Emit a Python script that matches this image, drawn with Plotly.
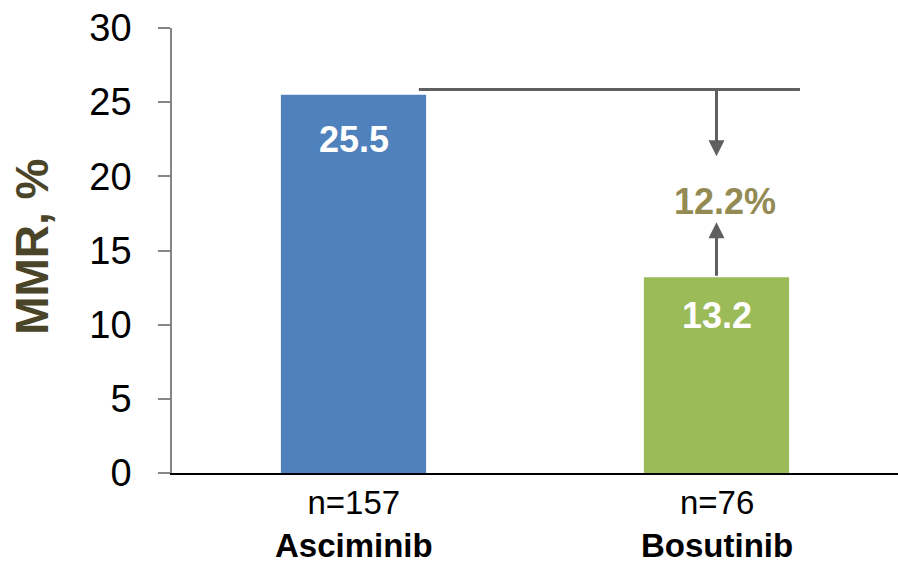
import plotly.graph_objects as go

# Data
drugs = ["Asciminib", "Bosutinib"]
n_patients = [157, 76]
mmr_pct = [25.5, 13.2]
diff_label = "12.2%"
y_ticks = [0, 5, 10, 15, 20, 25, 30]

bar_colors = ["#4F81BD", "#9BBB59"]
FONT = "Liberation Sans, Arial, sans-serif"

fig = go.Figure()
fig.add_trace(go.Bar(
    x=drugs, y=mmr_pct,
    marker=dict(color=bar_colors, line=dict(width=0)),
    width=0.4,
    hoverinfo="skip",
))

annotations = []

# Value labels inside each bar, near the top
label_drop = [-45, -38]
for d, v, dy in zip(drugs, mmr_pct, label_drop):
    annotations.append(dict(
        x=d, y=v, xref="x", yref="y", text=f"<b>{v:.1f}</b>",
        showarrow=False, yshift=dy, yanchor="middle",
        font=dict(family=FONT, size=36, color="white"),
    ))

# Category labels: sample size over drug name
for d, n in zip(drugs, n_patients):
    annotations.append(dict(
        x=d, y=0, xref="x", yref="paper", text=f"n={n}<br><b>{d}</b>",
        showarrow=False, yshift=-92, yanchor="bottom", borderpad=0,
        font=dict(family=FONT, size=33, color="black"),
    ))

# Difference bracket: reference line at the Asciminib level, arrows to Bosutinib
ref_y = mmr_pct[0] + 0.35
arrow_style = dict(xref="x", yref="y", axref="x", ayref="y", text="",
                   showarrow=True, arrowhead=2, arrowsize=1.07,
                   arrowwidth=3, arrowcolor="#5F5F5F")
annotations.append(dict(x=1, y=21.35, ax=1, ay=ref_y, **arrow_style))
annotations.append(dict(x=1, y=16.9, ax=1, ay=mmr_pct[1], **arrow_style))
annotations.append(dict(
    x=1, y=18.3, xref="x", yref="y", text=f"<b>{diff_label}</b>",
    showarrow=False, xshift=8, yanchor="middle",
    font=dict(family=FONT, size=36, color="#948A54"),
))

# Y-axis title
annotations.append(dict(
    x=-0.193, y=0.508, xref="paper", yref="paper", text="<b>MMR, %</b>",
    textangle=-90, showarrow=False, xanchor="center", yanchor="middle",
    font=dict(family=FONT, size=46, color="#4A4529"),
))

fig.update_layout(
    width=898, height=565,
    margin=dict(l=172, r=0, t=28, b=92),
    paper_bgcolor="white", plot_bgcolor="white",
    showlegend=False,
    annotations=annotations,
    shapes=[dict(type="line", xref="x", yref="y",
                 x0=0.18, x1=1.23, y0=ref_y, y1=ref_y,
                 line=dict(color="#5F5F5F", width=3))],
    xaxis=dict(
        showticklabels=False, ticks="", showgrid=False, zeroline=False,
        showline=True, linecolor="black", linewidth=1.5,
        range=[-0.5, 1.5],
    ),
    yaxis=dict(
        range=[0, 30], tickvals=y_ticks, ticks="outside", ticklen=12,
        tickcolor="#868686", tickwidth=1.5,
        showline=True, linecolor="#868686", linewidth=1.5,
        showgrid=False, zeroline=False,
        tickfont=dict(family=FONT, size=38, color="black"),
        ticklabelstandoff=19,
    ),
)

fig.write_html("out.html")
